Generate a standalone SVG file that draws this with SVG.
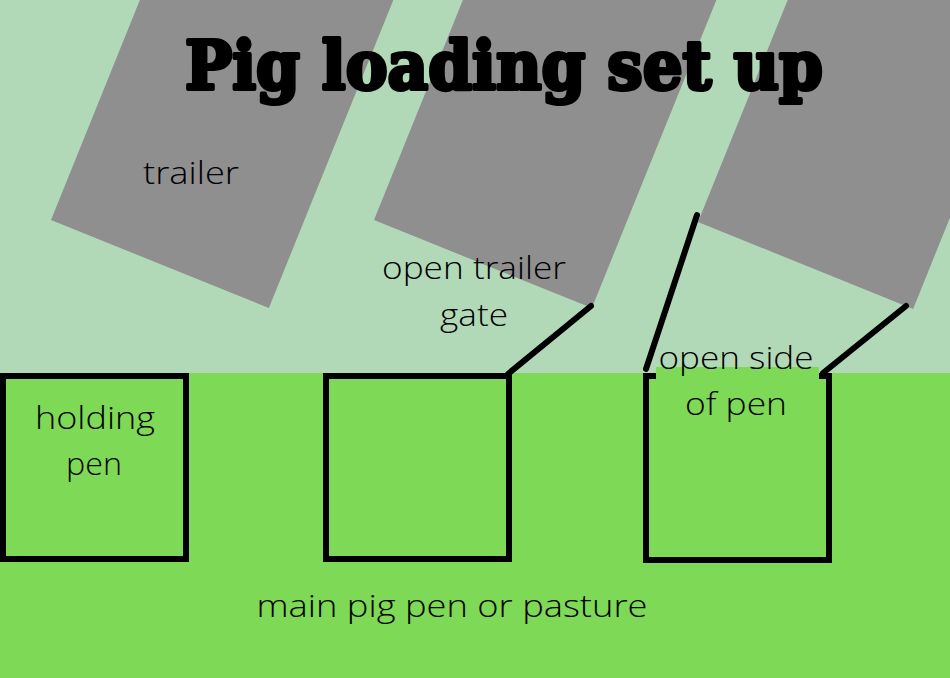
<svg xmlns="http://www.w3.org/2000/svg" width="950" height="678" viewBox="0 0 950 678">
<style>
.trailer{fill:#8f8f8f}
.pen{fill:none;stroke:#000;stroke-width:6}
.gate{fill:none;stroke:#000;stroke-width:6;stroke-linecap:round}
.lbl{font-family:"Open Sans",Lato,sans-serif;font-weight:350;font-size:31px;fill:#000;text-anchor:middle}
.title{font-family:"DejaVu Serif","Liberation Serif",serif;font-weight:bold;font-size:68px;fill:#000;stroke:#000;stroke-width:4;stroke-linejoin:round}
</style>
<rect id="sky" x="0" y="0" width="950" height="373" fill="#b1d9b7"/>
<rect id="ground" x="0" y="373" width="950" height="305" fill="#7ed957"/>
<g id="trailer1"><rect class="trailer" x="0" y="-600" width="235" height="600" transform="translate(51,220) rotate(22)"/></g>
<g id="trailer2"><rect class="trailer" x="0" y="-600" width="235" height="600" transform="translate(374,220) rotate(22)"/></g>
<g id="trailer3"><rect class="trailer" x="0" y="-600" width="232" height="600" transform="translate(698,222) rotate(22)"/></g>
<g id="title"><text class="title" x="185" y="89" textLength="638" lengthAdjust="spacingAndGlyphs">Pig loading set up</text></g>
<g id="holding-pen"><rect class="pen" x="3" y="376" width="183" height="183"/></g>
<g id="pen2"><rect class="pen" x="326" y="376" width="183" height="183"/></g>
<g id="pen3"><rect class="pen" x="646" y="376" width="183" height="184"/><rect x="656" y="367" width="163" height="30" fill="#7ed957"/></g>
<g id="connectors">
<line class="gate" x1="508" y1="374" x2="591" y2="306"/>
<line class="gate" x1="646" y1="369" x2="697" y2="215"/>
<line class="gate" x1="823" y1="373" x2="906" y2="306"/>
</g>
<g id="labels">
<text class="lbl" x="191" y="184" textLength="96" lengthAdjust="spacingAndGlyphs">trailer</text>
<text class="lbl" x="474" y="279" textLength="184" lengthAdjust="spacingAndGlyphs">open trailer</text>
<text class="lbl" x="474" y="326" textLength="68" lengthAdjust="spacingAndGlyphs">gate</text>
<text class="lbl" x="95" y="429" textLength="120" lengthAdjust="spacingAndGlyphs">holding</text>
<text class="lbl" x="94" y="475" textLength="56" lengthAdjust="spacingAndGlyphs">pen</text>
<text class="lbl" x="736" y="369" textLength="155" lengthAdjust="spacingAndGlyphs">open side</text>
<text class="lbl" x="736" y="415" textLength="102" lengthAdjust="spacingAndGlyphs">of pen</text>
<text class="lbl" x="452" y="617" textLength="391" lengthAdjust="spacingAndGlyphs">main pig pen or pasture</text>
</g>
</svg>
